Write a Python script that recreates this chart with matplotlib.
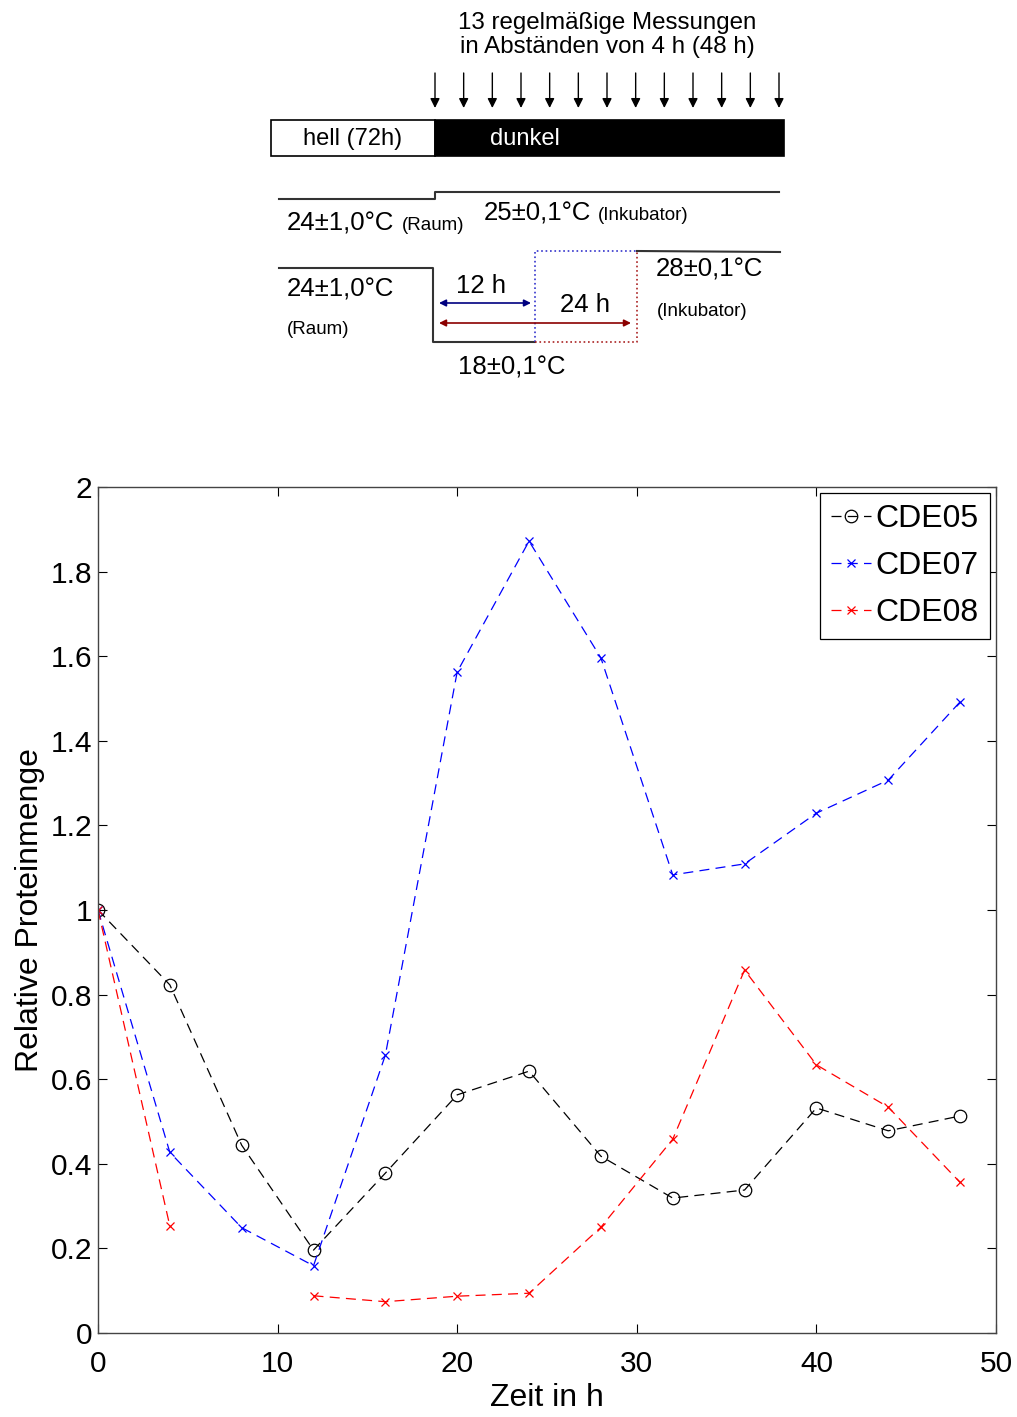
import numpy as np
import matplotlib
matplotlib.use("Agg")
import matplotlib.pyplot as plt

plt.rcParams["font.family"] = ["Liberation Sans", "DejaVu Sans"]

# measurement times (h)
zeit = [0, 4, 8, 12, 16, 20, 24, 28, 32, 36, 40, 44, 48]
cde05 = [1.0, 0.823, 0.444, 0.196, 0.378, 0.563, 0.619, 0.418, 0.319, 0.338, 0.532, 0.478, 0.513]
cde07 = [1.0, 0.427, 0.249, 0.159, 0.657, 1.563, 1.872, 1.596, 1.083, 1.109, 1.229, 1.307, 1.492]
cde08 = [1.0, 0.253, np.nan, 0.088, 0.074, 0.087, 0.094, 0.250, 0.458, 0.858, 0.634, 0.534, 0.356]
series = ["CDE05", "CDE07", "CDE08"]
xticks = [0, 10, 20, 30, 40, 50]
yticks = [0, 0.2, 0.4, 0.6, 0.8, 1, 1.2, 1.4, 1.6, 1.8, 2]
ytick_labels = ["0", "0.2", "0.4", "0.6", "0.8", "1", "1.2", "1.4", "1.6", "1.8", "2"]

W, H = 1017, 1417
fig = plt.figure(figsize=(W / 100, H / 100), dpi=100)

# ---- schematic of the experiment (pixel coordinates of the top panel) ----
d = fig.add_axes([0, 0, 1, 1])
d.set_xlim(0, W)
d.set_ylim(H, 0)
d.axis("off")

big, small = 18.5, 13.5
d.text(607, 35, "13 regelmäßige Messungen\nin Abständen von 4 h (48 h)",
       ha="center", va="center", fontsize=17.4, linespacing=1.15)

x_dark, px_per_h = 435, (779 - 435) / 48
for t in zeit:
    x = x_dark + t * px_per_h
    d.annotate("", xy=(x, 108), xytext=(x, 73),
               arrowprops=dict(arrowstyle="-|>", color="k", lw=1,
                               mutation_scale=14, shrinkA=0, shrinkB=0))

d.add_patch(plt.Rectangle((271, 120), 164, 36, fc="white", ec="k", lw=1.2))
d.add_patch(plt.Rectangle((435, 120), 349, 36, fc="black", ec="k", lw=1.2))
d.text(353, 139, "hell (72h)", ha="center", va="center", fontsize=17)
d.text(525, 139, "dunkel", ha="center", va="center", fontsize=17, color="white")

line_c = "#333333"
d.plot([279, 435, 435, 779], [199, 199, 192, 192], color=line_c, lw=1.5)
d.text(287, 223, "24±1,0°C", ha="left", va="center", fontsize=big)
d.text(402, 225, "(Raum)", ha="left", va="center", fontsize=small)
d.text(484, 214, "25±0,1°C", ha="left", va="center", fontsize=big)
d.text(598, 215, "(Inkubator)", ha="left", va="center", fontsize=small)

d.plot([279, 433, 433, 535], [268, 268, 342, 342], color=line_c, lw=1.5)
d.plot([535, 535, 637], [342, 251, 251], color="#3333cc", lw=1.2, ls=":")
d.plot([535, 637, 637], [342, 342, 251], color="#aa2222", lw=1.2, ls=":")
d.plot([637, 780], [251, 252], color=line_c, lw=1.5)

d.annotate("", xy=(531, 303), xytext=(439, 303),
           arrowprops=dict(arrowstyle="<|-|>", color="#000080", lw=1.2,
                           mutation_scale=10, shrinkA=0, shrinkB=0))
d.annotate("", xy=(631, 323), xytext=(439, 323),
           arrowprops=dict(arrowstyle="<|-|>", color="#8b0000", lw=1.2,
                           mutation_scale=10, shrinkA=0, shrinkB=0))
d.text(481, 286, "12 h", ha="center", va="center", fontsize=big)
d.text(585, 305, "24 h", ha="center", va="center", fontsize=big)
d.text(287, 289, "24±1,0°C", ha="left", va="center", fontsize=big)
d.text(287, 330, "(Raum)", ha="left", va="center", fontsize=small)
d.text(656, 270, "28±0,1°C", ha="left", va="center", fontsize=big)
d.text(657, 312, "(Inkubator)", ha="left", va="center", fontsize=small)
d.text(512, 368, "18±0,1°C", ha="center", va="center", fontsize=big)

# ---- protein amount chart ----
ax = fig.add_axes([98 / W, 1 - 1333 / H, (996 - 98) / W, (1333 - 487) / H])
ax.plot(zeit, cde05, ls="--", color="k", lw=0.9, marker="o", ms=9,
        mfc="none", mec="k", mew=0.9, label=series[0], dashes=(8, 5))
ax.plot(zeit, cde07, ls="--", color="#0000ff", lw=0.9, marker="x", ms=6,
        mew=0.9, label=series[1], dashes=(8, 5))
ax.plot(zeit, cde08, ls="--", color="#ff0000", lw=0.9, marker="x", ms=6,
        mew=0.9, label=series[2], dashes=(8, 5))

ax.set_xlim(0, 50)
ax.set_ylim(0, 2)
ax.set_xticks(xticks)
ax.set_yticks(yticks)
ax.set_yticklabels(ytick_labels)
ax.tick_params(direction="in", length=6.5, width=0.8, top=True, right=True,
               labelsize=21.5)
ax.tick_params(axis="x", pad=12)
ax.tick_params(axis="y", pad=4)
for s in ax.spines.values():
    s.set_color("#444444")
    s.set_linewidth(1.0)
ax.set_xlabel("Zeit in h", fontsize=23, labelpad=4)
ax.set_ylabel("Relative Proteinmenge", fontsize=23, labelpad=4)

leg = ax.legend(loc="upper right", fontsize=23, fancybox=False, framealpha=1,
                edgecolor="k", handlelength=1.25, handletextpad=0.15,
                borderaxespad=0.2, borderpad=0.34, labelspacing=0.53)
leg.get_frame().set_linewidth(0.9)

fig.savefig("out.png", dpi=100)
